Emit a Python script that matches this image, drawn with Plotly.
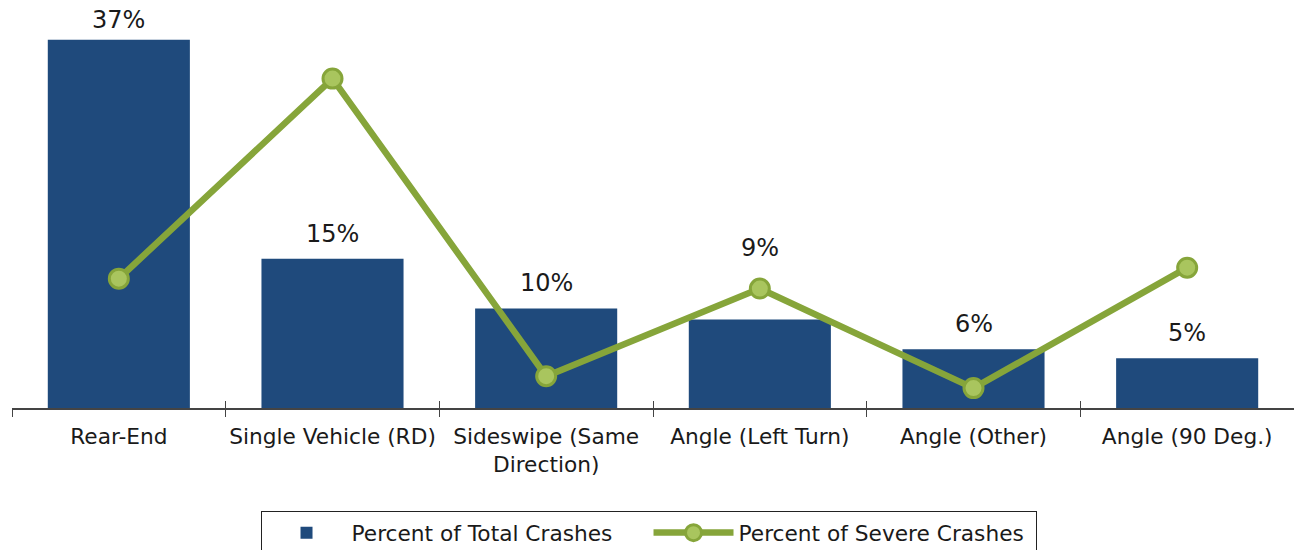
import plotly.graph_objects as go

categories = ["Rear-End", "Single Vehicle (RD)", "Sideswipe (Same<br>Direction)",
              "Angle (Left Turn)", "Angle (Other)", "Angle (90 Deg.)"]
total_pct = [37.0, 15.0, 10.0, 8.9, 5.9, 5.0]
severe_pct = [13.0, 33.1, 3.2, 12.0, 2.0, 14.1]
total_labels = ["37%", "15%", "10%", "9%", "6%", "5%"]
label_shift_px = [20, 25, 25, 71, 25, 25]

BLUE = "#1F4A7C"
GREEN = "#86A53A"
GREEN_LIGHT = "#A9C55E"
FONT = "DejaVu Sans"
TXT = "#1a1a1a"

fig = go.Figure()
fig.add_trace(go.Bar(
    x=categories, y=total_pct, name="Percent of Total Crashes",
    marker=dict(color=BLUE, line=dict(width=0)),
    width=0.665,
))
fig.add_trace(go.Scatter(
    x=categories, y=severe_pct, name="Percent of Severe Crashes",
    xaxis="x2", yaxis="y",
    mode="lines+markers",
    line=dict(color=GREEN, width=6.5),
    marker=dict(size=19, color=GREEN_LIGHT, line=dict(color=GREEN, width=3)),
    cliponaxis=False,
))

for cat, val, lab, sh in zip(categories, total_pct, total_labels, label_shift_px):
    fig.add_annotation(
        x=cat, y=val, xref="x", yref="y", text=lab, showarrow=False,
        yanchor="middle", yshift=sh,
        font=dict(family=FONT, size=24, color=TXT),
    )

fig.update_layout(
    width=1294, height=550,
    margin=dict(l=12, r=0, t=0, b=142, autoexpand=False),
    paper_bgcolor="white", plot_bgcolor="white",
    font=dict(family=FONT, size=21.7, color=TXT),
    showlegend=True,
    legend=dict(
        orientation="h", x=0.4965, xanchor="center", y=-0.2525, yanchor="top",
        bordercolor="#222222", borderwidth=1,
        font=dict(family=FONT, size=21.7, color=TXT),
        itemwidth=80,
        entrywidth=292, entrywidthmode="pixels",
    ),
    xaxis=dict(
        type="category", range=[-0.5, 5.5],
        showline=True, linecolor="#444444", linewidth=1.5,
        ticks="outside", tickson="boundaries", ticklen=7, tickwidth=1.2,
        tickcolor="#444444", showgrid=False, zeroline=False,
        tickangle=0, ticklabelstandoff=8,
        tickfont=dict(family=FONT, size=21.7, color=TXT),
    ),
    xaxis2=dict(
        overlaying="x", anchor="y", type="category", range=[-0.5, 5.5],
        ticks="inside", tickson="boundaries", ticklen=7, tickwidth=1.2,
        tickcolor="#444444", side="bottom",
        showticklabels=False, showgrid=False, zeroline=False, showline=False,
    ),
    yaxis=dict(visible=False, range=[0, 41], showgrid=False, zeroline=False),
)

fig.write_html("out.html", config={"displayModeBar": False},
               post_script="document.body.style.margin='0px';")
